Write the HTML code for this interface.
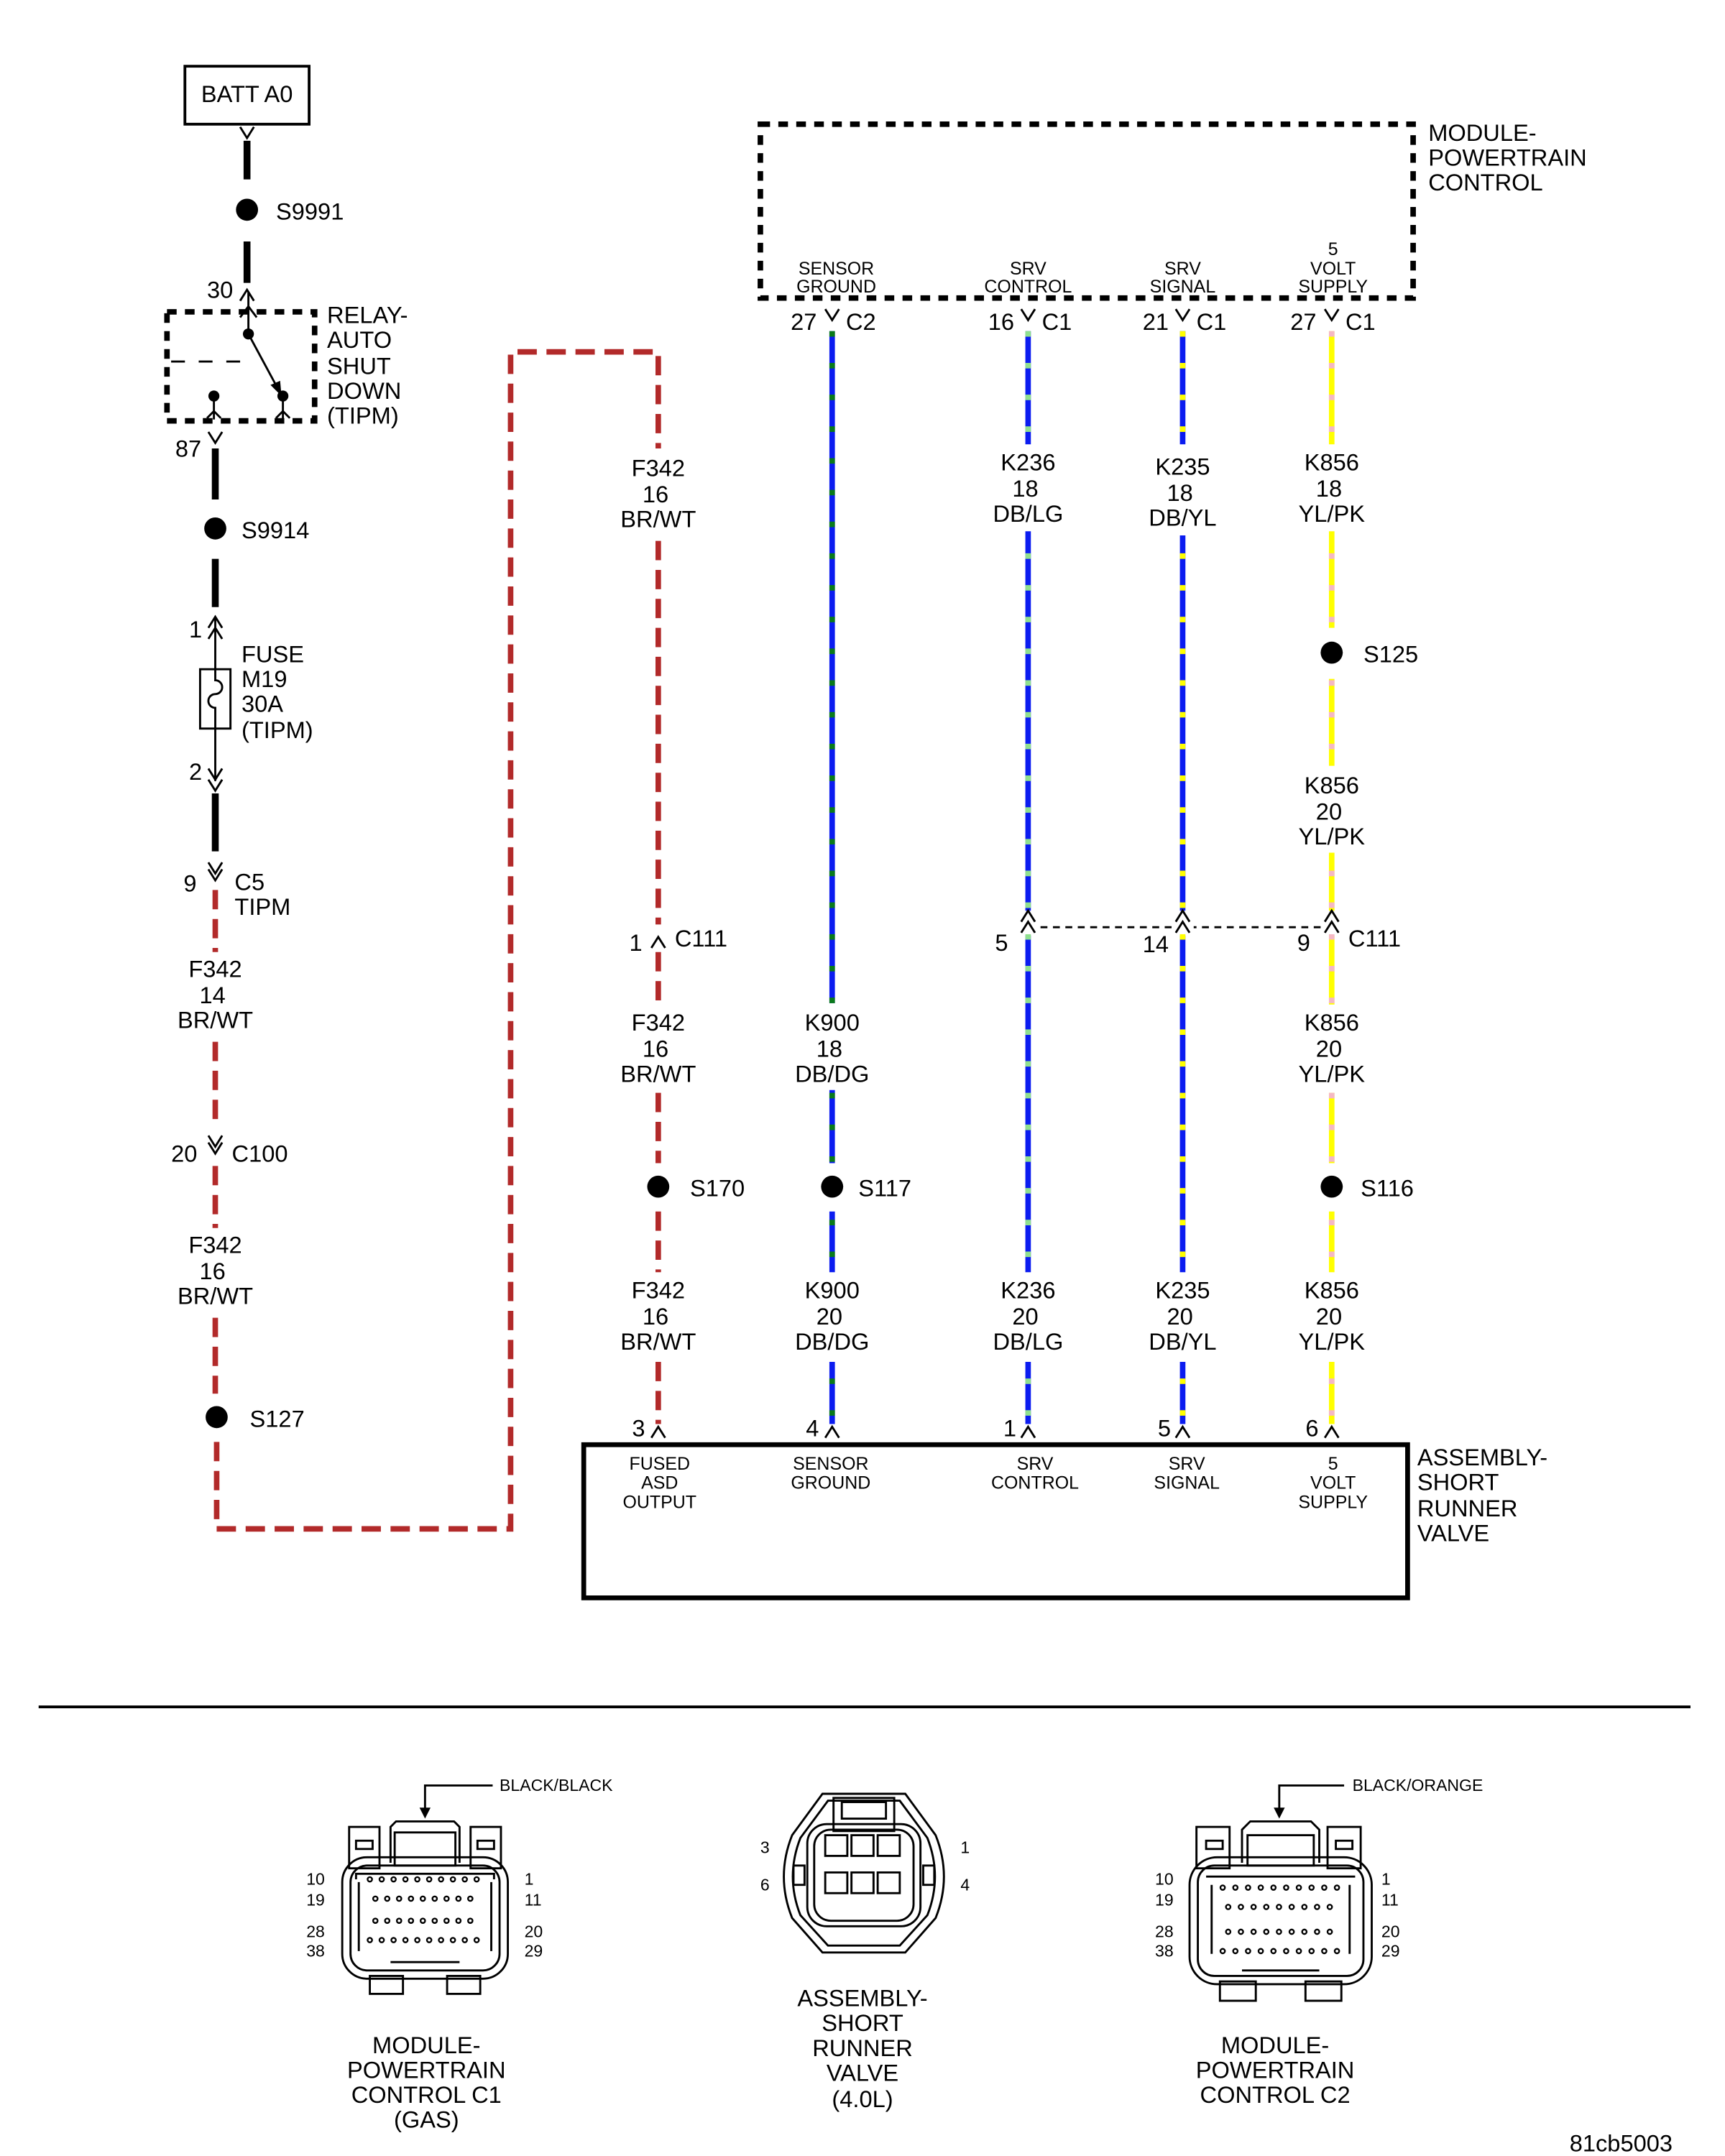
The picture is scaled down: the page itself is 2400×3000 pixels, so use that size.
<!DOCTYPE html>
<html><head><meta charset="utf-8"><style>
html,body{margin:0;padding:0;background:#fff;}
svg{display:block;}
text{font-family:"Liberation Sans",Arial,sans-serif;fill:#000;}
</style></head><body>
<svg width="2400" height="3000" viewBox="0 0 1250 1562.5" xmlns="http://www.w3.org/2000/svg">
<rect x="0" y="0" width="1250" height="1563" fill="#fff"/>
<g fill="none" stroke="#000" stroke-width="1.5">
<!-- BATT -->
<rect x="134" y="48" width="90" height="42" stroke-width="2"/>
<polyline points="174,92 179,100 184,92"/>
<polyline points="174,218 179,210 184,218"/>
<polyline points="151,313 156,321 161,313"/>
<polyline points="151,455 156,447 161,455"/>
<polyline points="151,463 156,455 161,463"/>
<polyline points="151,557 156,565 161,557"/>
<polyline points="151,565 156,573 161,565"/>
<polyline points="151,625 156,633 161,625"/>
<polyline points="151,630 156,638 161,630"/>
<polyline points="151,823 156,831 161,823"/>
<polyline points="151,828 156,836 161,828"/>
<polyline points="472,687 477,679 482,687"/>
<polyline points="472,1042 477,1034 482,1042"/>
<polyline points="598,224 603,232 608,224"/>
<polyline points="740,224 745,232 750,224"/>
<polyline points="852,224 857,232 862,224"/>
<polyline points="960,224 965,232 970,224"/>
<polyline points="740,668 745,660 750,668"/>
<polyline points="740,676 745,668 750,676"/>
<polyline points="852,668 857,660 862,668"/>
<polyline points="852,676 857,668 862,676"/>
<polyline points="960,668 965,660 970,668"/>
<polyline points="960,676 965,668 970,676"/>
<polyline points="598,1042 603,1034 608,1042"/>
<polyline points="740,1042 745,1034 750,1042"/>
<polyline points="852,1042 857,1034 862,1042"/>
<polyline points="960,1042 965,1034 970,1042"/>
</g>
<!-- black wires -->
<g stroke="#000" stroke-width="5">
<line x1="179" y1="102" x2="179" y2="130"/>
<line x1="179" y1="175" x2="179" y2="205"/>
<line x1="156" y1="325" x2="156" y2="362"/>
<line x1="156" y1="405" x2="156" y2="440"/>
<line x1="156" y1="575" x2="156" y2="617"/>
</g>
<g stroke="#000" stroke-width="1.5">
<line x1="156" y1="448" x2="156" y2="485"/>
<line x1="156" y1="528" x2="156" y2="566"/>
<rect x="145" y="485" width="22" height="43" fill="none"/>
<path d="M156,485 v8 a5,5 0 0 1 0,10 a5,5 0 0 0 0,10 v15" fill="none"/>
</g>
<g fill="#000">
<circle cx="179" cy="152" r="8"/><circle cx="156" cy="383" r="8"/>
<circle cx="157" cy="1027" r="8"/><circle cx="477" cy="860" r="8"/>
<circle cx="603" cy="860" r="8"/><circle cx="965" cy="473" r="8"/>
<circle cx="965" cy="860" r="8"/>
</g>
<!-- relay -->
<rect x="121" y="226" width="107" height="79" fill="none" stroke="#000" stroke-width="4" stroke-dasharray="7,6"/>
<g stroke="#000" stroke-width="1.5" fill="none">
<line x1="124" y1="262" x2="180" y2="262" stroke-dasharray="10,10"/>
<line x1="180" y1="212" x2="180" y2="242"/>
<polyline points="174,230 180,222 186,230"/>
<line x1="180" y1="242" x2="201" y2="281"/>
<polyline points="150,303 155,298 160,303"/>
<polyline points="200,303 205,298 210,303"/>
<line x1="155" y1="287" x2="155" y2="304"/><line x1="205" y1="287" x2="205" y2="304"/>
</g>
<polygon points="204,287 196,279 203,276" fill="#000"/>
<g fill="#000"><circle cx="180" cy="242" r="4"/><circle cx="155" cy="287" r="4"/><circle cx="205" cy="287" r="4"/></g>
<!-- red wire -->
<g fill="none" stroke="#b22a2a" stroke-width="4" stroke-dasharray="14,7">
<line x1="156" y1="645" x2="156" y2="690"/>
<line x1="156" y1="755" x2="156" y2="818"/>
<line x1="156" y1="845" x2="156" y2="890"/>
<line x1="156" y1="955" x2="156" y2="1010"/>
<polyline points="157,1045 157,1108 370,1108 370,255 477,255 477,325"/>
<line x1="477" y1="392" x2="477" y2="670"/>
<line x1="477" y1="690" x2="477" y2="728"/>
<line x1="477" y1="792" x2="477" y2="843"/>
<line x1="477" y1="878" x2="477" y2="922"/>
<line x1="477" y1="987" x2="477" y2="1032"/>
</g>
<!-- PCM box -->
<rect x="551" y="90" width="473" height="126" fill="none" stroke="#000" stroke-width="4" stroke-dasharray="7,6"/>
<line x1="745" y1="672" x2="965" y2="672" stroke="#000" stroke-width="1.5" stroke-dasharray="5,4"/>
<!-- colored wires -->
<g stroke-width="4" fill="none">
<g stroke="#0b1cf0">
<line x1="603" y1="240" x2="603" y2="727"/><line x1="603" y1="790" x2="603" y2="843"/>
<line x1="603" y1="878" x2="603" y2="922"/><line x1="603" y1="987" x2="603" y2="1032"/>
<line x1="745" y1="240" x2="745" y2="322"/><line x1="745" y1="385" x2="745" y2="660"/>
<line x1="745" y1="678" x2="745" y2="922"/><line x1="745" y1="987" x2="745" y2="1032"/>
<line x1="857" y1="240" x2="857" y2="322"/><line x1="857" y1="388" x2="857" y2="660"/>
<line x1="857" y1="678" x2="857" y2="922"/><line x1="857" y1="987" x2="857" y2="1032"/>
</g>
<g stroke="#ffff00">
<line x1="965" y1="240" x2="965" y2="322"/><line x1="965" y1="385" x2="965" y2="455"/>
<line x1="965" y1="492" x2="965" y2="555"/><line x1="965" y1="618" x2="965" y2="660"/>
<line x1="965" y1="678" x2="965" y2="728"/><line x1="965" y1="792" x2="965" y2="843"/>
<line x1="965" y1="878" x2="965" y2="922"/><line x1="965" y1="987" x2="965" y2="1032"/>
</g>
<g stroke-dasharray="4,19">
<line x1="603" y1="240" x2="603" y2="1032" stroke="#0a7a1a" stroke-dasharray="4,19"/>
</g>
</g>
<!-- stripes overlay (masked over gaps by label backgrounds) -->
<g stroke-width="4" stroke-dasharray="4,19">
<line x1="745" y1="240" x2="745" y2="1032" stroke="#8fe08f"/>
<line x1="857" y1="240" x2="857" y2="1032" stroke="#ffff00"/>
<line x1="965" y1="240" x2="965" y2="1032" stroke="#f5b8c4"/>
</g>
<!-- white blankers for label gaps -->
<g fill="#fff">
<rect x="595" y="728" width="16" height="61"/><rect x="595" y="844" width="16" height="33"/><rect x="595" y="923" width="16" height="63"/>
<rect x="737" y="323" width="16" height="61"/><rect x="737" y="661" width="16" height="16"/><rect x="737" y="923" width="16" height="63"/>
<rect x="849" y="323" width="16" height="64"/><rect x="849" y="661" width="16" height="16"/><rect x="849" y="923" width="16" height="63"/>
<rect x="957" y="323" width="16" height="61"/><rect x="957" y="456" width="16" height="35"/><rect x="957" y="556" width="16" height="61"/>
<rect x="957" y="661" width="16" height="16"/><rect x="957" y="729" width="16" height="62"/><rect x="957" y="844" width="16" height="33"/><rect x="957" y="923" width="16" height="63"/>
<rect x="595" y="1033" width="16" height="12"/><rect x="737" y="1033" width="16" height="12"/><rect x="849" y="1033" width="16" height="12"/><rect x="957" y="1033" width="16" height="12"/>
</g>
<g fill="#000"><circle cx="603" cy="860" r="8"/><circle cx="965" cy="473" r="8"/><circle cx="965" cy="860" r="8"/></g>
<g fill="none" stroke="#000" stroke-width="1.5">
<polyline points="740,668 745,660 750,668"/><polyline points="740,676 745,668 750,676"/>
<polyline points="852,668 857,660 862,668"/><polyline points="852,676 857,668 862,676"/>
<polyline points="960,668 965,660 970,668"/><polyline points="960,676 965,668 970,676"/>
<polyline points="598,1042 603,1034 608,1042"/><polyline points="740,1042 745,1034 750,1042"/>
<polyline points="852,1042 857,1034 862,1042"/><polyline points="960,1042 965,1034 970,1042"/>
</g>
<!-- assembly box -->
<rect x="423" y="1047" width="597" height="111" fill="none" stroke="#000" stroke-width="3.5"/>
<line x1="28" y1="1237" x2="1225" y2="1237" stroke="#000" stroke-width="2"/>

<!-- Text -->
<g font-size="17">
<text x="179" y="74" text-anchor="middle">BATT A0</text>
<text x="200" y="159">S9991</text>
<text x="150" y="216">30</text>
<text x="237" y="234">RELAY-</text><text x="237" y="252">AUTO</text><text x="237" y="271">SHUT</text><text x="237" y="289">DOWN</text><text x="237" y="307">(TIPM)</text>
<text x="127" y="331">87</text>
<text x="175" y="390">S9914</text>
<text x="137" y="462">1</text>
<text x="175" y="480">FUSE</text><text x="175" y="498">M19</text><text x="175" y="516">30A</text><text x="175" y="535">(TIPM)</text>
<text x="137" y="565">2</text>
<text x="133" y="646">9</text><text x="170" y="645">C5</text><text x="170" y="663">TIPM</text>
<g text-anchor="middle">
<text x="156" y="708">F342</text><text x="154" y="727">14</text><text x="156" y="745">BR/WT</text>
<text x="156" y="908">F342</text><text x="154" y="927">16</text><text x="156" y="945">BR/WT</text>
<text x="477" y="345">F342</text><text x="475" y="364">16</text><text x="477" y="382">BR/WT</text>
<text x="477" y="747">F342</text><text x="475" y="766">16</text><text x="477" y="784">BR/WT</text>
<text x="477" y="941">F342</text><text x="475" y="960">16</text><text x="477" y="978">BR/WT</text>
<text x="603" y="747">K900</text><text x="601" y="766">18</text><text x="603" y="784">DB/DG</text>
<text x="603" y="941">K900</text><text x="601" y="960">20</text><text x="603" y="978">DB/DG</text>
<text x="745" y="341">K236</text><text x="743" y="360">18</text><text x="745" y="378">DB/LG</text>
<text x="745" y="941">K236</text><text x="743" y="960">20</text><text x="745" y="978">DB/LG</text>
<text x="857" y="344">K235</text><text x="855" y="363">18</text><text x="857" y="381">DB/YL</text>
<text x="857" y="941">K235</text><text x="855" y="960">20</text><text x="857" y="978">DB/YL</text>
<text x="965" y="341">K856</text><text x="963" y="360">18</text><text x="965" y="378">YL/PK</text>
<text x="965" y="575">K856</text><text x="963" y="594">20</text><text x="965" y="612">YL/PK</text>
<text x="965" y="747">K856</text><text x="963" y="766">20</text><text x="965" y="784">YL/PK</text>
<text x="965" y="941">K856</text><text x="963" y="960">20</text><text x="965" y="978">YL/PK</text>
</g>
<text x="124" y="842">20</text><text x="168" y="842">C100</text>
<text x="181" y="1034">S127</text>
<text x="456" y="689">1</text><text x="489" y="686">C111</text>
<text x="500" y="867">S170</text><text x="622" y="867">S117</text>
<text x="988" y="480">S125</text><text x="986" y="867">S116</text>
<text x="721" y="689">5</text><text x="828" y="690">14</text>
<text x="940" y="689">9</text><text x="977" y="686">C111</text>
<text x="573" y="239">27</text><text x="613" y="239">C2</text>
<text x="716" y="239">16</text><text x="755" y="239">C1</text>
<text x="828" y="239">21</text><text x="867" y="239">C1</text>
<text x="935" y="239">27</text><text x="975" y="239">C1</text>
<text x="1035" y="102">MODULE-</text><text x="1035" y="120">POWERTRAIN</text><text x="1035" y="138">CONTROL</text>
<text x="458" y="1041">3</text><text x="584" y="1041">4</text><text x="727" y="1041">1</text><text x="839" y="1041">5</text><text x="946" y="1041">6</text>
<text x="1027" y="1062">ASSEMBLY-</text><text x="1027" y="1080">SHORT</text><text x="1027" y="1099">RUNNER</text><text x="1027" y="1117">VALVE</text>
<g text-anchor="middle">
<text x="309" y="1488">MODULE-</text><text x="309" y="1506">POWERTRAIN</text><text x="309" y="1524">CONTROL C1</text><text x="309" y="1542">(GAS)</text>
<text x="625" y="1454">ASSEMBLY-</text><text x="625" y="1472">SHORT</text><text x="625" y="1490">RUNNER</text><text x="625" y="1508">VALVE</text><text x="625" y="1527">(4.0L)</text>
<text x="924" y="1488">MODULE-</text><text x="924" y="1506">POWERTRAIN</text><text x="924" y="1524">CONTROL C2</text>
</g>
<text x="1212" y="1559" text-anchor="end">81cb5003</text>
</g>
<g font-size="13" text-anchor="middle">
<text x="606" y="199">SENSOR</text><text x="606" y="212">GROUND</text>
<text x="745" y="199">SRV</text><text x="745" y="212">CONTROL</text>
<text x="857" y="199">SRV</text><text x="857" y="212">SIGNAL</text>
<text x="966" y="185">5</text><text x="966" y="199">VOLT</text><text x="966" y="212">SUPPLY</text>
<text x="478" y="1065">FUSED</text><text x="478" y="1079">ASD</text><text x="478" y="1093">OUTPUT</text>
<text x="602" y="1065">SENSOR</text><text x="602" y="1079">GROUND</text>
<text x="750" y="1065">SRV</text><text x="750" y="1079">CONTROL</text>
<text x="860" y="1065">SRV</text><text x="860" y="1079">SIGNAL</text>
<text x="966" y="1065">5</text><text x="966" y="1079">VOLT</text><text x="966" y="1093">SUPPLY</text>
</g>
<g font-size="12">
<text x="362" y="1298">BLACK/BLACK</text><text x="980" y="1298">BLACK/ORANGE</text>
<text x="222" y="1366">10</text><text x="222" y="1381">19</text><text x="222" y="1404">28</text><text x="222" y="1418">38</text>
<text x="380" y="1366">1</text><text x="380" y="1381">11</text><text x="380" y="1404">20</text><text x="380" y="1418">29</text>
<text x="837" y="1366">10</text><text x="837" y="1381">19</text><text x="837" y="1404">28</text><text x="837" y="1418">38</text>
<text x="1001" y="1366">1</text><text x="1001" y="1381">11</text><text x="1001" y="1404">20</text><text x="1001" y="1418">29</text>
<text x="551" y="1343">3</text><text x="551" y="1370">6</text><text x="696" y="1343">1</text><text x="696" y="1370">4</text>
</g>
<!-- connector pointers -->
<g stroke="#000" stroke-width="1.5" fill="none">
<polyline points="357,1294 308,1294 308,1312"/>
<polyline points="974,1294 927,1294 927,1312"/>
</g>
<polygon points="304,1310 312,1310 308,1318" fill="#000"/>
<polygon points="923,1310 931,1310 927,1318"/>
<!-- C1 connector -->
<g transform="translate(248,1320)" fill="none" stroke="#000" stroke-width="1.5">
<rect x="5" y="4" width="22" height="30"/><rect x="10" y="14" width="12" height="6"/>
<rect x="93" y="4" width="22" height="30"/><rect x="98" y="14" width="12" height="6"/>
<path d="M35,30 V4 l4,-4 h42 l4,4 V30"/><rect x="38" y="8" width="44" height="24"/>
<rect x="0" y="26" width="120" height="88" rx="18"/>
<rect x="6" y="32" width="108" height="76" rx="12"/>
<path d="M10,42 V38 h100 v4 M12,44 v50 M108,44 v50 M35,102 h50"/>
<path d="M8,110 v0"/>
<rect x="20" y="112" width="24" height="13"/><rect x="76" y="112" width="24" height="13"/>
</g>
<g transform="translate(248,1320)" stroke-linecap="round">
<g stroke="#000" stroke-width="4.5" stroke-dasharray="0,8.6">
<line x1="20" y1="42" x2="100" y2="42"/><line x1="24" y1="56" x2="96" y2="56"/>
<line x1="24" y1="72" x2="96" y2="72"/><line x1="20" y1="86" x2="100" y2="86"/>
</g>
<g stroke="#fff" stroke-width="2" stroke-dasharray="0,8.6">
<line x1="20" y1="42" x2="100" y2="42"/><line x1="24" y1="56" x2="96" y2="56"/>
<line x1="24" y1="72" x2="96" y2="72"/><line x1="20" y1="86" x2="100" y2="86"/>
</g>
</g>
<!-- C2 connector -->
<g transform="translate(862,1320)" fill="none" stroke="#000" stroke-width="1.5">
<rect x="5" y="4" width="24" height="30"/><rect x="12" y="14" width="12" height="6"/>
<rect x="100" y="4" width="24" height="30"/><rect x="106" y="14" width="12" height="6"/>
<path d="M38,30 V6 l6,-6 h44 l6,6 V30"/><rect x="42" y="10" width="48" height="22"/>
<rect x="0" y="26" width="132" height="92" rx="20"/>
<rect x="6" y="32" width="120" height="80" rx="12"/>
<path d="M12,40 h108 M16,46 v50 M116,46 v50 M38,108 h56"/>
<rect x="22" y="116" width="26" height="14"/><rect x="84" y="116" width="26" height="14"/>
</g>
<g transform="translate(862,1320)" stroke-linecap="round">
<g stroke="#000" stroke-width="4.5" stroke-dasharray="0,9.2">
<line x1="24" y1="48" x2="108" y2="48"/><line x1="28" y1="62" x2="104" y2="62"/>
<line x1="28" y1="80" x2="104" y2="80"/><line x1="24" y1="94" x2="108" y2="94"/>
</g>
<g stroke="#fff" stroke-width="2" stroke-dasharray="0,9.2">
<line x1="24" y1="48" x2="108" y2="48"/><line x1="28" y1="62" x2="104" y2="62"/>
<line x1="28" y1="80" x2="104" y2="80"/><line x1="24" y1="94" x2="108" y2="94"/>
</g>
</g>
<!-- SRV connector -->
<g fill="none" stroke="#000" stroke-width="1.5">
<path d="M596,1300 H656 L678,1330 Q690,1360 678,1390 L656,1415 H596 L574,1390 Q562,1360 574,1330 Z"/>
<path d="M600,1305 H652 L672,1332 Q683,1360 672,1388 L652,1410 H600 L580,1388 Q569,1360 580,1332 Z"/>
<rect x="604" y="1303" width="44" height="24"/><rect x="610" y="1306" width="32" height="12"/>
<rect x="585" y="1322" width="82" height="74" rx="14"/>
<rect x="590" y="1326" width="72" height="66" rx="12"/>
<rect x="598" y="1330" width="16" height="15"/><rect x="617" y="1330" width="16" height="15"/><rect x="636" y="1330" width="16" height="15"/>
<rect x="598" y="1357" width="16" height="15"/><rect x="617" y="1357" width="16" height="15"/><rect x="636" y="1357" width="16" height="15"/>
<rect x="575" y="1352" width="8" height="14"/><rect x="669" y="1352" width="8" height="14"/>
</g>
</svg>
</body></html>
